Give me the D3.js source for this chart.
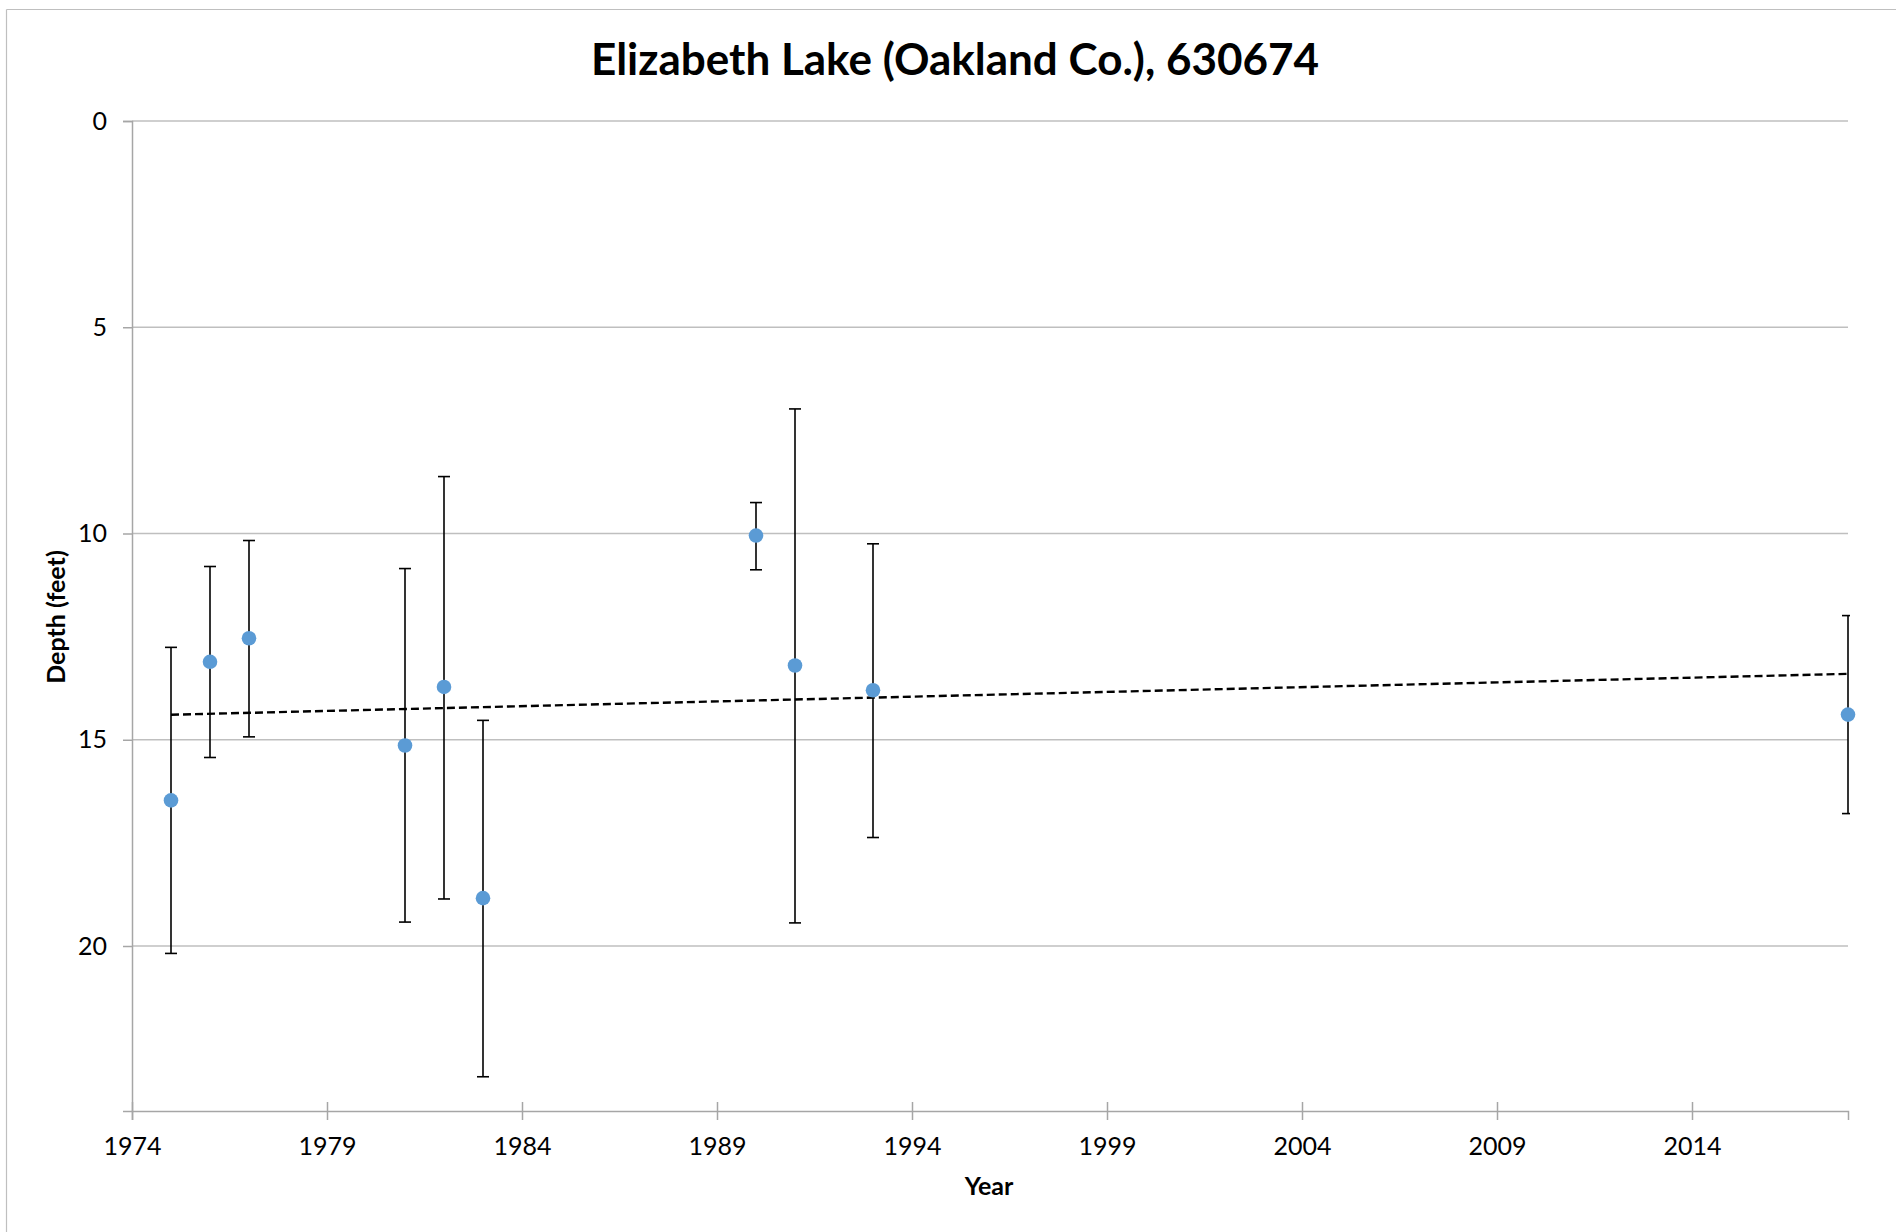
<!DOCTYPE html>
<html lang="en">
  <head>
    <meta charset="UTF-8" />
    <title>Elizabeth Lake (Oakland Co.), 630674</title>
    <script src="https://d3js.org/d3.v7.min.js"></script>
    <style>
      body { margin: 0; background: #fff; }
      text { font-family: Lato, "Open Sans", sans-serif; fill: #000; }
    </style>
  </head>
  <body>
    <svg width="1896" height="1232"></svg>
    <script>
      // data
      const years = [1975, 1976, 1977, 1981, 1982, 1983, 1990, 1991, 1993, 2018];
      const depth = [16.47, 13.11, 12.54, 15.14, 13.72, 18.84, 10.05, 13.2, 13.8, 14.39];
      const errTop = [12.76, 10.8, 10.17, 10.85, 8.62, 14.53, 9.25, 6.98, 10.25, 11.99];
      const errBottom = [20.18, 15.43, 14.93, 19.42, 18.86, 23.17, 10.88, 19.44, 17.37, 16.79];
      const xTicks = [1974, 1979, 1984, 1989, 1994, 1999, 2004, 2009, 2014];
      const yTicks = [0, 5, 10, 15, 20];

      const svg = d3.select("svg");
      const margin = { left: 132, right: 48, top: 121, bottom: 121 };
      const W = 1896, H = 1232;

      // chart border (only top and left show in the picture)
      svg.append("line")
        .attr("x1", 6.5).attr("x2", W).attr("y1", 9.5).attr("y2", 9.5)
        .attr("stroke", "#bfbfbf").attr("stroke-width", 1.2);
      svg.append("line")
        .attr("x1", 6.5).attr("x2", 6.5).attr("y1", 9.5).attr("y2", H)
        .attr("stroke", "#bfbfbf").attr("stroke-width", 1.2);

      const x = d3.scaleLinear().domain([1974, 2018]).range([margin.left, W - margin.right]);
      const y = d3.scaleLinear().domain([0, 24]).range([margin.top, H - margin.bottom]);

      // gridlines
      svg.append("g")
        .selectAll("line")
        .data(yTicks)
        .join("line")
        .attr("x1", x(1974)).attr("x2", x(2018))
        .attr("y1", d => y(d)).attr("y2", d => y(d))
        .attr("stroke", "#bfbfbf").attr("stroke-width", 1.6);

      // y axis
      const yAxis = svg.append("g")
        .attr("transform", `translate(${x(1974)},0)`)
        .call(d3.axisLeft(y).tickValues(yTicks).tickSize(9).tickPadding(16));
      yAxis.select(".domain").attr("stroke", "#a6a6a6").attr("stroke-width", 1.5);
      yAxis.selectAll(".tick line").attr("stroke", "#a6a6a6").attr("stroke-width", 1.5);
      yAxis.selectAll(".tick text").style("font-size", "25px").attr("fill", "#000");

      // x axis, ticks crossing the line
      const xAxis = svg.append("g")
        .attr("transform", `translate(0,${y(24)})`)
        .call(d3.axisBottom(x).tickValues(xTicks).tickFormat(d3.format("d")).tickSizeOuter(0).tickSize(9).tickPadding(17));
      xAxis.select(".domain").attr("stroke", "#a6a6a6").attr("stroke-width", 1.5);
      xAxis.selectAll(".tick line").attr("y1", -9).attr("stroke", "#a6a6a6").attr("stroke-width", 1.5);
      xAxis.selectAll(".tick text").style("font-size", "25px").attr("fill", "#000");

      // trend line (least squares on the points)
      const mx = d3.mean(years), my = d3.mean(depth);
      const slope = d3.sum(years, (v, i) => (v - mx) * (depth[i] - my)) / d3.sum(years, v => (v - mx) ** 2);
      const fit = v => my + slope * (v - mx);
      const xr = d3.extent(years);
      svg.append("line")
        .attr("x1", x(xr[0])).attr("y1", y(fit(xr[0])))
        .attr("x2", x(xr[1])).attr("y2", y(fit(xr[1])))
        .attr("stroke", "#000").attr("stroke-width", 2.4)
        .attr("stroke-dasharray", "8,4");

      // error bars
      svg.append("clipPath").attr("id", "plotclip")
        .append("rect")
        .attr("x", 0).attr("y", 0)
        .attr("width", x(2018) + 2).attr("height", H);

      const pts = years.map((v, i) => ({ year: v, d: depth[i], lo: errTop[i], hi: errBottom[i] }));
      const eb = svg.append("g").attr("clip-path", "url(#plotclip)")
        .selectAll("g").data(pts).join("g")
        .attr("stroke", "#000").attr("stroke-width", 1.6);
      eb.append("line")
        .attr("x1", d => x(d.year)).attr("x2", d => x(d.year))
        .attr("y1", d => y(d.lo)).attr("y2", d => y(d.hi));
      eb.append("line")
        .attr("x1", d => x(d.year) - 6).attr("x2", d => x(d.year) + 6)
        .attr("y1", d => y(d.lo)).attr("y2", d => y(d.lo));
      eb.append("line")
        .attr("x1", d => x(d.year) - 6).attr("x2", d => x(d.year) + 6)
        .attr("y1", d => y(d.hi)).attr("y2", d => y(d.hi));

      // points
      svg.append("g")
        .selectAll("circle").data(pts).join("circle")
        .attr("cx", d => x(d.year)).attr("cy", d => y(d.d))
        .attr("r", 7.3).attr("fill", "#5b9bd5");

      // titles
      svg.append("text")
        .attr("x", 955).attr("y", 75)
        .attr("text-anchor", "middle")
        .style("font-size", "44px").style("font-weight", "bold")
        .text("Elizabeth Lake (Oakland Co.), 630674");

      svg.append("text")
        .attr("x", 989).attr("y", 1195)
        .attr("text-anchor", "middle")
        .style("font-size", "25px").style("font-weight", "bold")
        .text("Year");

      svg.append("text")
        .attr("transform", "translate(65,617) rotate(-90)")
        .attr("text-anchor", "middle")
        .style("font-size", "25px").style("font-weight", "bold")
        .text("Depth (feet)");
    </script>
  </body>
</html>
